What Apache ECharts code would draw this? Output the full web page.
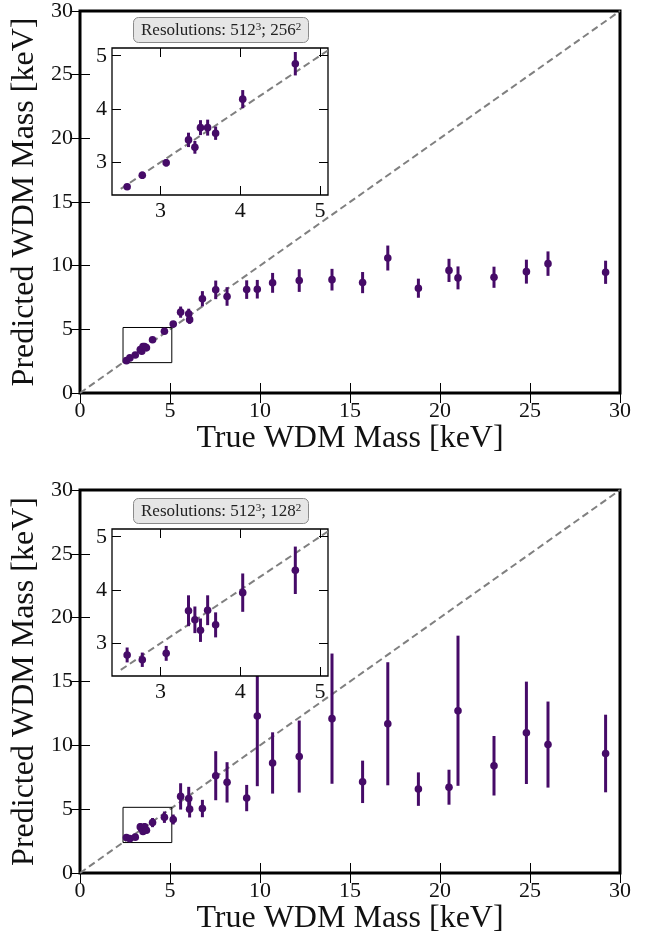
<!DOCTYPE html>
<html>
<head>
<meta charset="utf-8">
<script src="https://cdn.jsdelivr.net/npm/echarts@6/dist/echarts.min.js"></script>
<style>
  html, body { margin: 0; padding: 0; background: #fff; }
  #chart { width: 654px; height: 945px; }
</style>
</head>
<body>
<div id="chart"></div>
<script>
// true WDM mass of each simulation (keV)
const trueMass = [2.58, 2.77, 3.07, 3.35, 3.43, 3.50, 3.59, 3.69, 4.03, 4.69, 5.18, 5.59, 6.04, 6.09, 6.80, 7.54, 8.17, 9.26, 9.85, 10.70, 12.18, 14.00, 15.70, 17.10, 18.80, 20.50, 21.00, 23.00, 24.80, 26.00, 29.20]
// predictions, resolution 512^3; 256^2
const pred256 = [2.54, 2.755, 2.99, 3.42, 3.28, 3.65, 3.65, 3.545, 4.185, 4.85, 5.41, 6.35, 6.22, 5.76, 7.40, 8.10, 7.58, 8.12, 8.15, 8.65, 8.83, 8.90, 8.67, 10.60, 8.23, 9.63, 9.04, 9.09, 9.53, 10.16, 9.48]
const err256 = [0.05, 0.07, 0.07, 0.135, 0.12, 0.14, 0.15, 0.125, 0.17, 0.22, 0.15, 0.44, 0.40, 0.33, 0.60, 0.73, 0.73, 0.73, 0.73, 0.78, 0.89, 0.85, 0.83, 0.98, 0.75, 0.91, 0.90, 0.83, 0.94, 0.96, 0.91]
// predictions, resolution 512^3; 128^2
const pred128 = [2.78, 2.69, 2.81, 3.61, 3.44, 3.245, 3.62, 3.345, 3.95, 4.37, 4.19, 6.00, 5.84, 5.00, 5.05, 7.62, 7.10, 5.87, 12.30, 8.62, 9.12, 12.09, 7.14, 11.69, 6.57, 6.72, 12.71, 8.40, 10.98, 10.06, 9.36]
const err128 = [0.14, 0.135, 0.14, 0.29, 0.25, 0.22, 0.28, 0.235, 0.36, 0.445, 0.39, 1.03, 0.91, 0.65, 0.68, 1.92, 1.58, 1.03, 5.50, 2.40, 2.82, 5.10, 1.66, 4.82, 1.31, 1.37, 5.88, 2.33, 4.01, 3.37, 3.04]

const mainLim = [0, 30]
const insetX = [2.39, 5.10]
const insetY = [2.385, 5.145]
const insetTicks = [3, 4, 5]

const FONT = "'Liberation Serif', 'DejaVu Serif', serif"
const PURPLE = '#460b68'

const chart = echarts.init(document.getElementById('chart'))

const panels = [
    { top: 9, height: 384, pred: pred256, err: err256, res: '256' },
    { top: 490, height: 383, pred: pred128, err: err128, res: '128' },
]

const grids = []
const xAxes = []
const yAxes = []
const series = []
const titles = []

const errRender = (params, api) => {
    const x = api.value(0)
    const y = api.value(1)
    const e = api.value(2)
    const lo = api.coord([x, y - e])
    const hi = api.coord([x, y + e])
    const c = api.coord([x, y])
    return {
        type: 'group',
        children: [
            { type: 'line', shape: { x1: lo[0], y1: lo[1], x2: hi[0], y2: hi[1] }, style: { stroke: PURPLE, lineWidth: 3 } },
            { type: 'circle', shape: { cx: c[0], cy: c[1], r: 3.8 }, style: { fill: PURPLE } },
        ],
    }
}

const axisPair = (isX, lim, inset, z, named) => {
    const common = {
        type: 'value',
        min: lim[0],
        max: lim[1],
        z: z,
        axisLine: { show: false },
        splitLine: { show: false },
        axisTick: { inside: true, length: inset ? 9 : 10, lineStyle: { color: '#000', width: 1 } },
        axisLabel: { fontFamily: FONT, fontSize: 22, color: '#111', margin: inset ? 5 : 7 },
    }
    if (inset) {
        common.axisTick.customValues = insetTicks
        common.axisLabel.customValues = insetTicks
    } else {
        common.interval = 5
    }
    const first = JSON.parse(JSON.stringify(common))
    first.position = isX ? 'bottom' : 'left'
    if (named) {
        first.name = isX ? 'True WDM Mass [keV]' : 'Predicted WDM Mass [keV]'
        first.nameLocation = 'middle'
        first.nameGap = isX ? 30 : 34
        first.nameTextStyle = { fontFamily: FONT, fontSize: 32, color: '#111' }
    }
    const second = JSON.parse(JSON.stringify(common))
    second.position = isX ? 'top' : 'right'
    second.axisLabel.show = false
    return [first, second]
}

panels.forEach((p, i) => {
    const gMain = grids.length
    grids.push({
        left: 80, top: p.top, width: 540, height: p.height,
        show: true, backgroundColor: '#fff', borderColor: '#000', borderWidth: 3, z: 0,
    })
    xAxes.push(...axisPair(true, mainLim, false, 1, true).map(a => ({ ...a, gridIndex: gMain })))
    yAxes.push(...axisPair(false, mainLim, false, 1, true).map(a => ({ ...a, gridIndex: gMain })))

    const gIn = grids.length
    grids.push({
        left: 112, top: p.top + 39, width: 216, height: 147,
        show: true, backgroundColor: '#fff', borderColor: '#000', borderWidth: 1.3, z: 10,
    })
    xAxes.push(...axisPair(true, insetX, true, 11, false).map(a => ({ ...a, gridIndex: gIn })))
    yAxes.push(...axisPair(false, insetY, true, 11, false).map(a => ({ ...a, gridIndex: gIn })))

    const rows = trueMass.map((m, k) => [m, p.pred[k], p.err[k]])
    const insetRows = rows.filter(r => r[0] >= insetX[0] && r[0] <= insetX[1])

    // main panel
    series.push({
        type: 'line', xAxisIndex: 2 * gMain, yAxisIndex: 2 * gMain, z: 2, silent: true,
        data: [[mainLim[0], mainLim[0]], [mainLim[1], mainLim[1]]],
        showSymbol: false, symbol: 'none',
        lineStyle: { color: '#808080', width: 2, type: [7, 4] },
    })
    series.push({
        type: 'line', xAxisIndex: 2 * gMain, yAxisIndex: 2 * gMain, z: 3, silent: true,
        data: [[insetX[0], insetY[0]], [insetX[1], insetY[0]], [insetX[1], insetY[1]], [insetX[0], insetY[1]], [insetX[0], insetY[0]]],
        showSymbol: false, symbol: 'none',
        lineStyle: { color: '#000', width: 1 },
    })
    series.push({
        type: 'custom', xAxisIndex: 2 * gMain, yAxisIndex: 2 * gMain, z: 4,
        renderItem: errRender, data: rows, clip: true,
    })

    // inset
    series.push({
        type: 'line', xAxisIndex: 2 * gIn, yAxisIndex: 2 * gIn, z: 12, silent: true,
        data: [[2.5, 2.5], [insetY[1], insetY[1]]],
        showSymbol: false, symbol: 'none', clip: true,
        lineStyle: { color: '#808080', width: 2, type: [7, 4] },
    })
    series.push({
        type: 'custom', xAxisIndex: 2 * gIn, yAxisIndex: 2 * gIn, z: 13,
        renderItem: errRender, data: insetRows, clip: true,
    })

    titles.push({
        text: 'Resolutions: 512{s|3}; ' + p.res + '{s|2}',
        left: 133, top: p.top + 8, z: 20,
        backgroundColor: '#e6e6e6', borderColor: '#8a8a8a', borderWidth: 1, borderRadius: 5,
        padding: [5, 8, 4, 8],
        textStyle: {
            fontFamily: FONT, fontSize: 17, fontWeight: 'normal', color: '#222',
            rich: { s: { fontFamily: FONT, fontSize: 11, color: '#222', verticalAlign: 'top', padding: [0, 0, 6, 0] } },
        },
    })
})

const option = {
    animation: false,
    backgroundColor: '#fff',
    title: titles,
    grid: grids,
    xAxis: xAxes,
    yAxis: yAxes,
    series: series,
}
option && chart.setOption(option)
</script>
</body>
</html>
